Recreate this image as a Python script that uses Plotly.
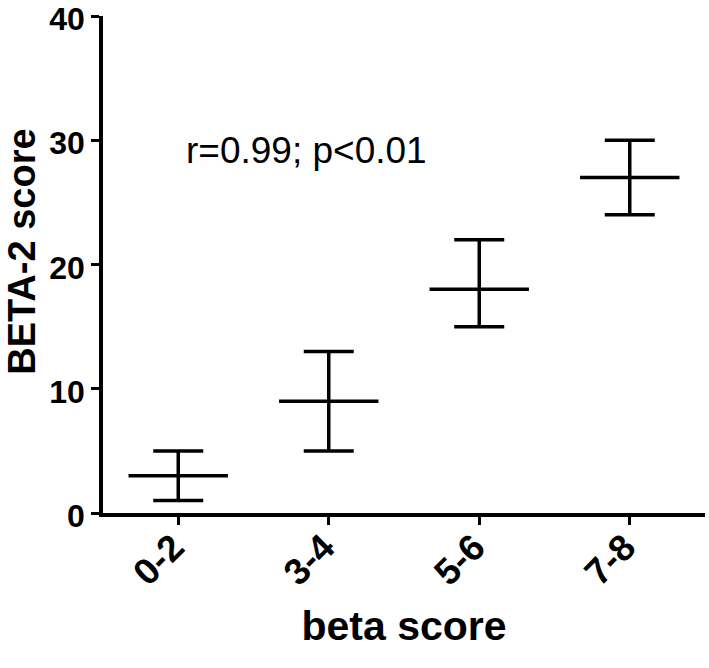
import plotly.graph_objects as go

categories = ["0-2", "3-4", "5-6", "7-8"]
medians = [3, 9, 18, 27]
upper = [5, 13, 22, 30]
lower = [1, 5, 15, 24]
y_ticks = [0, 10, 20, 30, 40]
annotation_text = "r=0.99; p<0.01"
x_title = "beta score"
y_title = "BETA-2 score"

FONT = "Liberation Sans, Arial, sans-serif"

fig = go.Figure()

fig.add_trace(go.Scatter(
    x=categories, y=medians, mode="markers",
    marker=dict(symbol="line-ew", size=71, color="black",
                line=dict(color="black", width=3.5)),
    error_y=dict(type="data", symmetric=False,
                 array=[u - m for u, m in zip(upper, medians)],
                 arrayminus=[m - l for m, l in zip(medians, lower)],
                 color="black", thickness=3.5, width=25),
    showlegend=False, hoverinfo="skip", cliponaxis=False,
))

fig.add_annotation(
    x=0.853, y=29.2, xref="x", yref="y", text=annotation_text,
    showarrow=False, font=dict(family=FONT, size=37, color="black"),
)

fig.add_annotation(
    x=-0.135, y=0.525, xref="paper", yref="paper", text=y_title,
    textangle=-90, showarrow=False, xanchor="center", yanchor="middle",
    font=dict(family=FONT, size=38, color="black", weight="bold"),
)

fig.update_layout(
    width=709, height=668,
    margin=dict(l=103, r=4, t=16, b=155),
    plot_bgcolor="white", paper_bgcolor="white",
    xaxis=dict(
        type="category", range=[-0.5, 3.5], automargin=False,
        showline=True, linecolor="black", linewidth=3.5,
        ticks="outside", ticklen=8, tickwidth=3, tickcolor="black",
        tickangle=-45, showgrid=False, zeroline=False,
        ticklabelstandoff=-14, ticklabelshift=-5,
        tickfont=dict(family=FONT, size=37, color="black", weight="bold"),
        title=dict(text=x_title, standoff=20,
                   font=dict(family=FONT, size=41, color="black", weight="bold")),
    ),
    yaxis=dict(
        range=[0, 40], tickvals=y_ticks, automargin=False,
        showline=True, linecolor="black", linewidth=3.5,
        ticks="outside", ticklen=8, tickwidth=3, tickcolor="black",
        showgrid=False, zeroline=False, ticklabeloverflow="allow",
        ticklabelshift=3,
        tickfont=dict(family=FONT, size=32, color="black", weight="bold"),
    ),
)

fig.write_html("out.html", config={"displayModeBar": False},
               post_script="document.body.style.margin='0px';")
